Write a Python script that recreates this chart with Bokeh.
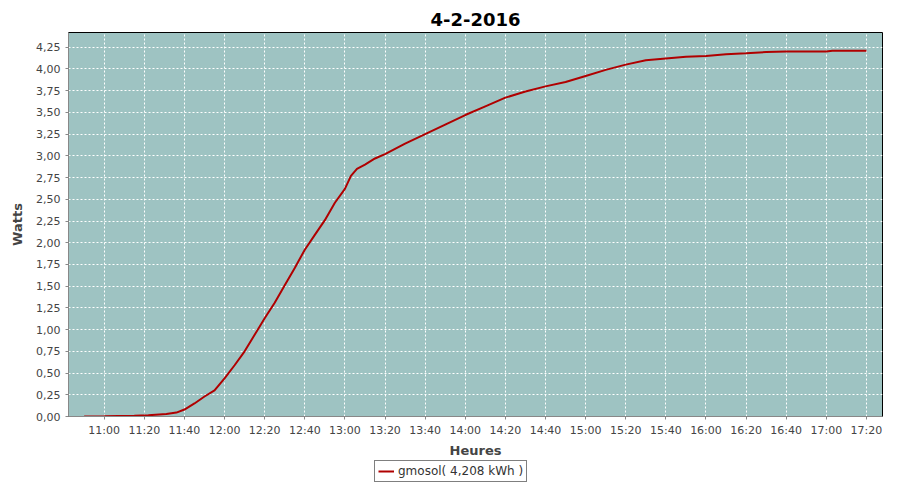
import pandas as pd
from bokeh.plotting import figure
from bokeh.layouts import column
from bokeh.models import (ColumnDataSource, FixedTicker, CustomJSTickFormatter,
                          DatetimeTickFormatter, Legend, LegendItem, Range1d)
from bokeh.embed import file_html
from bokeh.resources import INLINE

title_text = "4-2-2016"
x_label = "Heures"
y_label = "Watts"
series_name = "gmosol( 4,208 kWh )"

times = ["10:50", "11:00", "11:07", "11:15", "11:22", "11:31", "11:36", "11:40",
         "11:45", "11:50", "11:55", "12:00", "12:05", "12:10", "12:15", "12:20",
         "12:25", "12:30", "12:35", "12:40", "12:45", "12:50", "12:55", "13:00",
         "13:03", "13:06", "13:10", "13:15", "13:20", "13:30", "13:40", "13:50",
         "14:00", "14:10", "14:20", "14:30", "14:40", "14:50", "15:00", "15:10",
         "15:20", "15:30", "15:40", "15:50", "16:00", "16:10", "16:20", "16:30",
         "16:40", "16:50", "17:00", "17:03", "17:10", "17:20"]
watts = [0.000, 0.002, 0.005, 0.008, 0.015, 0.028, 0.045, 0.08,
         0.15, 0.23, 0.30, 0.44, 0.59, 0.75, 0.94, 1.13,
         1.31, 1.51, 1.71, 1.92, 2.09, 2.26, 2.46, 2.62,
         2.77, 2.85, 2.90, 2.97, 3.02, 3.14, 3.25, 3.36,
         3.47, 3.57, 3.67, 3.74, 3.80, 3.85, 3.92, 3.99,
         4.05, 4.10, 4.12, 4.14, 4.15, 4.17, 4.18, 4.195,
         4.20, 4.20, 4.20, 4.21, 4.21, 4.21]

x_tick_labels = ["11:00", "11:20", "11:40", "12:00", "12:20", "12:40", "13:00",
                 "13:20", "13:40", "14:00", "14:20", "14:40", "15:00", "15:20",
                 "15:40", "16:00", "16:20", "16:40", "17:00", "17:20"]
y_ticks = [0.0, 0.25, 0.5, 0.75, 1.0, 1.25, 1.5, 1.75, 2.0, 2.25, 2.5, 2.75,
           3.0, 3.25, 3.5, 3.75, 4.0, 4.25]

LINE_COLOR = "#B00000"

day = "2016-02-04 "
def ts(t):
    return pd.Timestamp(day + t)

def ms(t):
    return ts(t).value // 10**6

src = ColumnDataSource(data=dict(t=[ts(t) for t in times], w=watts))

p = figure(width=884, height=460, x_axis_type="datetime",
           output_backend="svg", toolbar_location=None,
           x_range=Range1d(ms("10:42") + 12000, ms("17:28")),
           y_range=Range1d(0, 4.42),
           min_border_left=68, min_border_right=2, min_border_top=32,
           min_border_bottom=30)

p.background_fill_color = "#9EC3C2"
p.border_fill_color = "white"
p.outline_line_color = "black"
p.outline_line_width = 1

p.title.text = title_text
p.title.align = "center"
p.title.vertical_align = "top"
p.title.text_font = "DejaVu Sans"
p.title.text_font_size = "18px"
p.title.text_font_style = "bold"
p.title.text_color = "black"

p.line("t", "w", source=src, line_color=LINE_COLOR, line_width=2)

p.xaxis.ticker = FixedTicker(ticks=[ms(t) for t in x_tick_labels])
p.xaxis.formatter = DatetimeTickFormatter(minutes="%H:%M", hourmin="%H:%M",
                                          hours="%H:%M")
p.yaxis.ticker = FixedTicker(ticks=y_ticks)
p.yaxis.formatter = CustomJSTickFormatter(code="return tick.toFixed(2).replace('.', ',');")

for ax in (p.xaxis[0], p.yaxis[0]):
    ax.axis_line_color = "#888888"
    ax.major_tick_line_color = "#888888"
    ax.major_tick_in = 0
    ax.major_tick_out = 3
    ax.minor_tick_line_color = None
    ax.major_label_text_font = "DejaVu Sans"
    ax.major_label_text_font_size = "11px"
    ax.major_label_text_color = "#444444"
    ax.axis_label_text_font = "DejaVu Sans"
    ax.axis_label_text_font_size = "13px"
    ax.axis_label_text_font_style = "bold"
    ax.axis_label_text_color = "#444444"

p.xaxis.axis_label = x_label
p.yaxis.axis_label = y_label
p.xaxis.major_label_standoff = 4
p.xaxis.axis_label_standoff = 3
p.yaxis.axis_label_standoff = 8

p.grid.grid_line_color = "white"
p.grid.grid_line_dash = "2 2"
p.grid.grid_line_width = 1
p.grid.grid_line_alpha = 1.0

# legend strip below the chart
lg = figure(width=884, height=24, output_backend="svg", toolbar_location=None,
            x_range=Range1d(0, 1), y_range=Range1d(0, 1),
            x_axis_location=None, y_axis_location=None,
            min_border=0)
lg.grid.visible = False
lg.outline_line_color = None
lg.background_fill_color = "white"
lr = lg.line(x=[float("nan")], y=[float("nan")], line_color=LINE_COLOR, line_width=2)
legend = Legend(items=[LegendItem(label=series_name, renderers=[lr])],
                location=(306, 2), orientation="horizontal")
legend.border_line_color = "black"
legend.border_line_width = 1
legend.background_fill_color = "white"
legend.background_fill_alpha = 1.0
legend.label_text_font = "DejaVu Sans"
legend.label_text_font_size = "12px"
legend.label_text_color = "#333333"
legend.glyph_width = 16
legend.glyph_height = 12
legend.label_height = 12
legend.padding = 3
legend.spacing = 0
legend.margin = 0
legend.label_standoff = 4
lg.add_layout(legend)

layout = column(p, lg, spacing=0)

with open("out.html", "w") as f:
    f.write(file_html(layout, INLINE))
